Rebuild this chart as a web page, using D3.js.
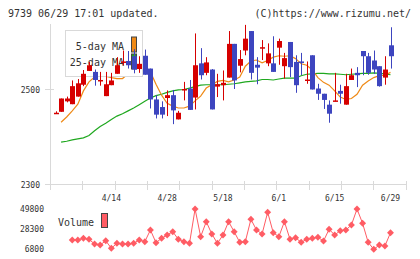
<!DOCTYPE html>
<html>
<head>
<meta charset="utf-8">
<script src="https://cdn.jsdelivr.net/npm/d3@7"></script>
<style>
  html, body { margin: 0; padding: 0; background: #fff; }
  svg { display: block; }
  text { font-family: "DejaVu Sans Mono", monospace; fill: #333; }
</style>
</head>
<body>
<svg id="chart" width="420" height="259"></svg>
<script>
// trading days shown on the chart
const dates = ['3/31','4/1','4/2','4/3','4/6','4/7','4/8','4/9','4/10','4/13',
  '4/14','4/15','4/16','4/17','4/20','4/21','4/22','4/23','4/24','4/27',
  '4/28','4/30','5/1','5/7','5/8','5/11','5/12','5/13','5/14','5/15',
  '5/18','5/19','5/20','5/21','5/22','5/25','5/26','5/27','5/28','5/29',
  '6/1','6/2','6/3','6/4','6/5','6/8','6/9','6/10','6/11','6/12',
  '6/15','6/16','6/17','6/18','6/19','6/22','6/23','6/24','6/25','6/26','6/29'];

const open  = [2450,2452,2474,2468,2484,2509,2538,2536,2518,2485,2508,2532,2557,2559,2569,2542,2570,2543,2478,2462,
  2481,2487,2436,2499,2501,2482,2554,2534,2541,2505,2508,2524,2595,2549,2581,2622,2551,2587,2554,2554,
  2587,2548,2599,2557,2558,2519,2571,2501,2490,2467,2475,2496,2467,2519,2534,2580,2569,2560,2548,2524,2592];
const high  = [2453,2480,2484,2518,2521,2540,2557,2541,2536,2536,2534,2567,2581,2580,2584,2569,2583,2543,2487,2474,
  2497,2498,2454,2515,2519,2617,2586,2567,2542,2532,2539,2622,2595,2582,2635,2622,2567,2603,2596,2611,
  2606,2576,2599,2571,2576,2558,2571,2511,2490,2476,2534,2509,2532,2543,2546,2580,2576,2581,2548,2569,2630];
const low   = [2448,2452,2472,2468,2484,2506,2538,2507,2507,2485,2508,2532,2550,2543,2533,2534,2530,2459,2438,2438,
  2443,2426,2436,2476,2456,2457,2520,2529,2457,2483,2476,2524,2500,2535,2571,2520,2510,2561,2548,2536,
  2551,2522,2525,2492,2529,2511,2499,2477,2458,2429,2474,2469,2467,2519,2504,2529,2530,2532,2505,2509,2543];
const close = [2450,2480,2480,2506,2512,2532,2550,2519,2519,2510,2518,2550,2558,2550,2541,2553,2530,2478,2446,2446,
  2487,2455,2450,2500,2456,2550,2529,2556,2457,2510,2513,2595,2518,2563,2606,2534,2545,2588,2575,2536,
  2601,2565,2546,2508,2555,2520,2499,2490,2477,2448,2476,2490,2506,2529,2529,2569,2534,2541,2506,2541,2569];

const ma5 = [null,2430,2441,2454,2468,2496,2515,2525,2529,2527,2524,2522,2522,2532,2540,2546,2547,2536,2510,2487,
  2470,2464,2460,2460,2464,2475,2485,2502,2509,2516,2518,2515,2519,2525,2548,2559,2561,2555,2560,2567,
  2570,2569,2570,2564,2553,2550,2540,2524,2514,2508,2496,2483,2478,2480,2489,2508,2517,2524,2528,2529,2535];
const ma25 = [null,2388,2390,2393,2395,2397,2402,2412,2421,2428,2436,2443,2448,2454,2460,2467,2474,2481,2486,2489,
  2493,2496,2498,2499,2502,2505,2508,2509,2509,2509,2509,2510,2511,2513,2515,2516,2517,2520,2520,2519,
  2521,2523,2523,2523,2528,2531,2532,2533,2533,2532,2532,2531,2530,2531,2532,2533,2533,2534,2533,2532,2530];

const volume = [null,null,null,16800,16800,18600,17550,12500,11400,16000,7900,13250,12500,12500,13250,16800,15000,27550,13900,18600,
  22200,25700,17550,15000,13250,50100,20350,36500,23250,13250,22200,36500,25700,14300,15000,39050,27550,23250,46600,24650,
  20350,36500,17550,19250,14300,17550,18600,19700,15700,28300,22200,26800,27550,32900,50100,34750,14300,6800,11400,10350,24650];

const priceTicks = [2300, 2500];
const volumeTicks = [6800, 28300, 49800];
const dateLabels = ['4/14', '4/28', '5/18', '6/1', '6/15', '6/29'];

const RED = '#d60000', BLUE = '#3d45bf', ORANGE = '#ef8a17', GREEN = '#1fa81f', VOL = '#ff5c64', GRID = '#d9d9d9';

const svg = d3.select('#chart');

const x = d3.scalePoint().domain(dates).range([55.5, 390.5]);
const y = d3.scaleLinear().domain([2300, 2640]).range([184, 22.5]);
const yv = d3.scaleLinear().domain([6800, 49800]).range([249.3, 209.3]);
const gridX = d3.scaleLinear().domain([0, 11]).range([50, 405.7]);

// header
svg.append('text').attr('x', 8).attr('y', 16.5).style('font-size', '10px')
  .text('9739 06/29 17:01 updated.');
svg.append('text').attr('x', 411).attr('y', 16.5).attr('text-anchor', 'end').style('font-size', '10px')
  .text('(C)https://www.rizumu.net/');

// axes
svg.append('line').attr('x1', 50.5).attr('x2', 50.5).attr('y1', 24).attr('y2', 190)
  .attr('stroke', GRID);
svg.append('line').attr('x1', 45).attr('x2', 406).attr('y1', 184.5).attr('y2', 184.5)
  .attr('stroke', GRID);
svg.selectAll('.xtick').data(d3.range(12)).join('line')
  .attr('x1', d => Math.round(gridX(d)) + 0.5).attr('x2', d => Math.round(gridX(d)) + 0.5)
  .attr('y1', 181).attr('y2', 190).attr('stroke', GRID);

priceTicks.forEach(p => {
  const yy = Math.round(y(p)) + 0.5;
  svg.append('line').attr('x1', 45).attr('x2', 54).attr('y1', yy).attr('y2', yy).attr('stroke', GRID);
  svg.append('text').attr('x', 40).attr('y', yy + 3).attr('text-anchor', 'end')
    .style('font-size', '8px').text(p);
});

svg.selectAll('.dlabel').data(dateLabels).join('text')
  .attr('x', d => x(d)).attr('y', 201).attr('text-anchor', 'middle')
  .style('font-size', '8px').text(d => d);

// moving averages
const maLine = arr => d3.line()
  .defined(d => arr[dates.indexOf(d)] != null)
  .x(d => x(d)).y(d => y(arr[dates.indexOf(d)]));

svg.append('path').attr('d', maLine(ma25)(dates)).attr('fill', 'none')
  .attr('stroke', GREEN).attr('stroke-width', 1.2);
svg.append('path').attr('d', maLine(ma5)(dates)).attr('fill', 'none')
  .attr('stroke', ORANGE).attr('stroke-width', 1.2);

// legend (under the candles)
const lg = svg.append('g');
lg.append('rect').attr('x', 65.5).attr('y', 30.5).attr('width', 77).attr('height', 46)
  .attr('fill', '#fff').attr('stroke', GRID);
lg.append('text').attr('x', 124).attr('y', 49.5).attr('text-anchor', 'end')
  .style('font-size', '10px').text('5-day MA');
lg.append('text').attr('x', 124).attr('y', 66).attr('text-anchor', 'end')
  .style('font-size', '10px').text('25-day MA');
lg.append('rect').attr('x', 131.5).attr('y', 37).attr('width', 5).attr('height', 15)
  .attr('fill', ORANGE).attr('stroke', '#444');
lg.append('rect').attr('x', 131.5).attr('y', 54).attr('width', 5).attr('height', 15)
  .attr('fill', GREEN).attr('stroke', '#444');

// candles
const candles = svg.selectAll('.candle').data(dates).join('g');
candles.append('line')
  .attr('x1', d => Math.round(x(d)) + 0.5).attr('x2', d => Math.round(x(d)) + 0.5)
  .attr('y1', (d, i) => y(high[i])).attr('y2', (d, i) => y(low[i]))
  .attr('stroke', (d, i) => close[i] >= open[i] ? RED : BLUE);
candles.append('rect')
  .attr('x', d => Math.round(x(d)) - 2).attr('width', 5)
  .attr('y', (d, i) => y(Math.max(open[i], close[i])))
  .attr('height', (d, i) => Math.max(1.5, Math.abs(y(open[i]) - y(close[i]))))
  .attr('fill', (d, i) => close[i] >= open[i] ? RED : BLUE);

// volume panel
volumeTicks.forEach(v => {
  svg.append('text').attr('x', 44).attr('y', yv(v) + 3).attr('text-anchor', 'end')
    .style('font-size', '8px').text(v);
});
svg.append('text').attr('x', 58).attr('y', 226).style('font-size', '10px').text('Volume');
svg.append('rect').attr('x', 101.5).attr('y', 213.5).attr('width', 6).attr('height', 14)
  .attr('fill', VOL).attr('stroke', '#444');

const volLine = d3.line()
  .defined(d => volume[dates.indexOf(d)] != null)
  .x(d => x(d)).y(d => yv(volume[dates.indexOf(d)]));
svg.append('path').attr('d', volLine(dates)).attr('fill', 'none')
  .attr('stroke', VOL).attr('stroke-width', 1);

const diamond = d3.symbol(d3.symbolSquare, 24);
svg.selectAll('.vpt').data(dates.filter((d, i) => volume[i] != null)).join('path')
  .attr('d', diamond)
  .attr('transform', d => `translate(${x(d)},${yv(volume[dates.indexOf(d)])}) rotate(45)`)
  .attr('fill', VOL);
</script>
</body>
</html>
